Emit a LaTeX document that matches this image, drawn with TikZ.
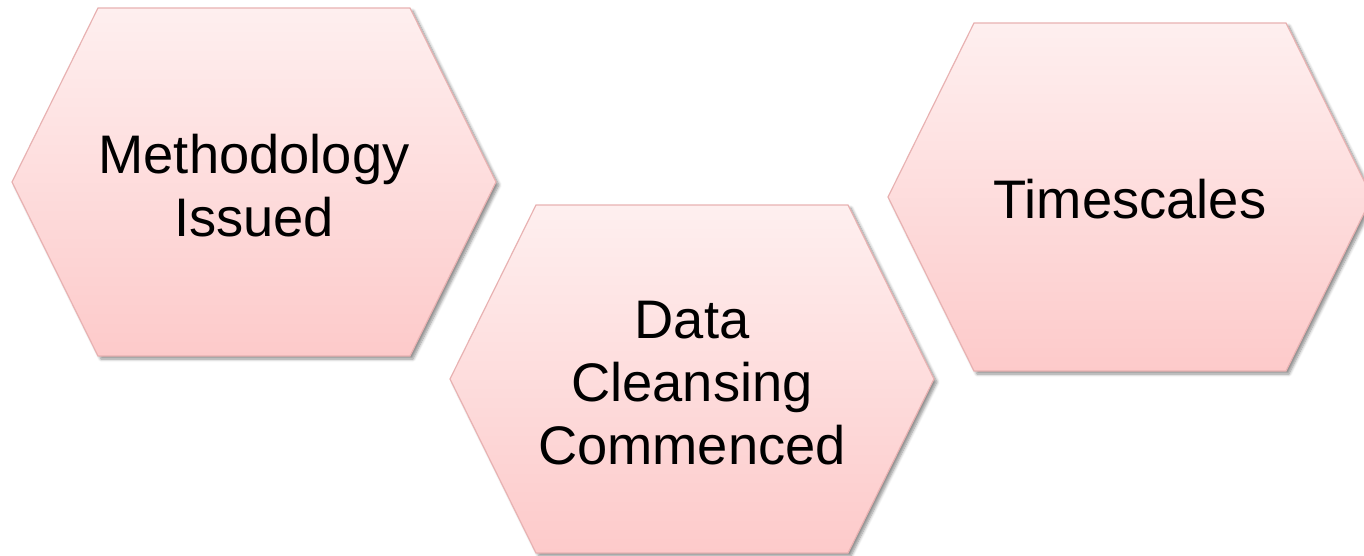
\documentclass[tikz,border=0pt]{standalone}
\usepackage{fontspec}
\setmainfont{Liberation Sans}
\usetikzlibrary{shadows.blur}
\definecolor{hextop}{HTML}{FEEFEF}
\definecolor{hexbot}{HTML}{FDCACA}
\definecolor{hexline}{HTML}{E8B2B2}
\tikzset{
  hexfill/.style={draw=hexline, line width=1.2pt, top color=hextop, bottom color=hexbot,
    blur shadow={shadow xshift=3pt, shadow yshift=-3pt, shadow blur steps=6, shadow blur radius=3pt, shadow opacity=45}},
  hexlabel/.style={font=\fontsize{54.3}{63}\selectfont, align=center, text=black}
}
% draws a hexagon whose left vertex is at #1, #2 (pixel-like units, y downward)
\newcommand{\hexat}[2]{%
  \path[hexfill] (#1,#2) -- ++(86,-174) -- ++(312,0) -- ++(86,174)
    -- ++(-86,174) -- ++(-312,0) -- cycle;}
\begin{document}
\begin{tikzpicture}[x=1pt,y=-1pt]
  \path[use as bounding box] (0,0) rectangle (1364,556);
  \clip (0,0) rectangle (1364,556);
  \hexat{12}{182}
  \hexat{450}{379}
  \hexat{888}{197}
  \node[hexlabel] (method) at (254,186) {Methodology\\Issued};
  \node[hexlabel] (cleanse) at (692,383) {Data\\Cleansing\\Commenced};
  \node[hexlabel] (time) at (1130,199) {Timescales};
\end{tikzpicture}
\end{document}
